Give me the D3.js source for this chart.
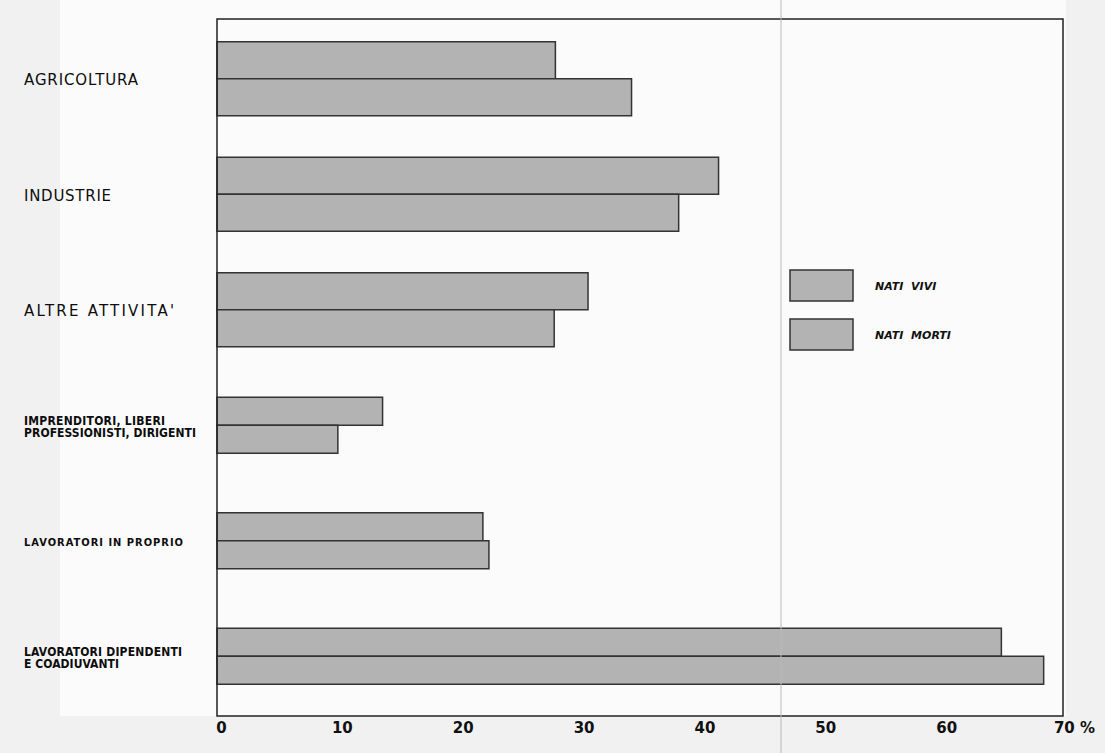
<!DOCTYPE html>
<html>
<head>
<meta charset="utf-8">
<script src="https://cdn.jsdelivr.net/npm/d3@7"></script>
<style>
  body { margin: 0; background: #f1f1f1; }
  svg { display: block; }
</style>
</head>
<body>
<svg width="1105" height="753"></svg>
<script>
var categories = [
  ["AGRICOLTURA"],
  ["INDUSTRIE"],
  ["ALTRE  ATTIVITA'"],
  ["IMPRENDITORI, LIBERI", "PROFESSIONISTI, DIRIGENTI"],
  ["LAVORATORI IN PROPRIO"],
  ["LAVORATORI DIPENDENTI", "E COADIUVANTI"]
];
var natiVivi  = [28.0, 41.5, 30.7, 13.7, 22.0, 64.9];
var natiMorti = [34.3, 38.2, 27.9, 10.0, 22.5, 68.4];
var seriesNames = ["NATI VIVI", "NATI MORTI"];
var xTicks = [0, 10, 20, 30, 40, 50, 60, 70];

var svg = d3.select("svg"),
    margin = {top: 19, right: 42, bottom: 37, left: 217},
    width = +svg.attr("width") - margin.left - margin.right,
    height = +svg.attr("height") - margin.top - margin.bottom;

// paper
svg.append("rect").attr("x", 60).attr("y", 0).attr("width", 1006).attr("height", 716)
    .attr("fill", "#fbfbfb");

var g = svg.append("g")
    .attr("transform", "translate(" + margin.left + "," + margin.top + ")");

var x = d3.scaleLinear().domain([0, 70]).range([0, width]);
var y = d3.scaleBand().domain(d3.range(categories.length)).range([2, height - 2]).padding(0);

// fold line of the scan
svg.append("line")
    .attr("x1", 781).attr("x2", 781).attr("y1", 0).attr("y2", 753)
    .attr("stroke", "#b8b8b8").attr("stroke-width", 1);

function thick(i) { return i < 3 ? 37 : 28; }

var rows = categories.map(function(c, i) {
  return {i: i, label: c, vals: [natiVivi[i], natiMorti[i]]};
});

var grp = g.selectAll(".grp")
  .data(rows)
  .enter().append("g")
    .attr("class", "grp")
    .attr("transform", function(d) { return "translate(0," + (y(d.i) + y.bandwidth() / 2) + ")"; });

grp.selectAll("rect")
  .data(function(d) { return d.vals.map(function(v, k) { return {v: v, k: k, t: thick(d.i)}; }); })
  .enter().append("rect")
    .attr("x", x(0))
    .attr("y", function(d) { return d.k === 0 ? -d.t : 0; })
    .attr("width", function(d) { return x(d.v) - x(0); })
    .attr("height", function(d) { return d.t; })
    .attr("fill", "#b3b3b3")
    .attr("stroke", "#333")
    .attr("stroke-width", 1.5);

// category labels
var labelStyle = [
  {size: 15, w: [114], weight: 500, family: "DejaVu Sans"},
  {size: 15, w: [87], weight: 500, family: "DejaVu Sans"},
  {size: 15, w: [150], weight: 500, family: "DejaVu Sans"},
  {size: 12, w: [141, 172], weight: 700, family: "DejaVu Sans Condensed"},
  {size: 11, w: [159], weight: 700, family: "DejaVu Sans Condensed"},
  {size: 12, w: [158, 95], weight: 700, family: "DejaVu Sans Condensed"}
];

grp.each(function(d) {
  var s = labelStyle[d.i];
  var n = d.label.length;
  var lh = s.size;
  d3.select(this).selectAll("text.lab")
    .data(d.label)
    .enter().append("text")
      .attr("class", "lab")
      .attr("x", 24 - margin.left)
      .attr("y", function(t, k) { return (k - (n - 1) / 2) * lh + 1; })
      .attr("dy", "0.36em")
      .attr("font-family", s.family)
      .attr("font-weight", s.weight)
      .attr("font-size", s.size)
      .attr("fill", "#0d0d0d")
      .attr("textLength", function(t, k) { return s.w[k]; })
      .attr("lengthAdjust", "spacing")
      .text(function(t) { return t; });
});

// frame
g.append("rect")
    .attr("width", width).attr("height", height)
    .attr("fill", "none").attr("stroke", "#222").attr("stroke-width", 1.5);

// x axis
var xAxis = g.append("g")
    .attr("transform", "translate(0," + height + ")")
    .call(d3.axisBottom(x).tickValues(xTicks).tickSize(0).tickPadding(6)
      .tickFormat(function(d) { return d === 70 ? "70 %" : d; }));
xAxis.select(".domain").remove();
xAxis.selectAll("text")
    .attr("dx", function(d) { return d === 70 ? 11 : 4; })
    .attr("font-family", "DejaVu Sans")
    .attr("font-weight", 700)
    .attr("font-size", 15)
    .attr("fill", "#111");

// legend
var legend = svg.append("g").attr("transform", "translate(790,270)");
legend.selectAll("rect")
  .data(seriesNames)
  .enter().append("rect")
    .attr("x", 0)
    .attr("y", function(d, i) { return i * 49; })
    .attr("width", 63).attr("height", 31)
    .attr("fill", "#b3b3b3").attr("stroke", "#333").attr("stroke-width", 1.5);
legend.selectAll("text")
  .data(seriesNames)
  .enter().append("text")
    .attr("x", 85)
    .attr("y", function(d, i) { return i * 49 + 16; })
    .attr("dy", "0.36em")
    .attr("font-family", "DejaVu Sans")
    .attr("font-style", "italic")
    .attr("font-weight", 700)
    .attr("font-size", 11)
    .attr("word-spacing", 4)
    .attr("fill", "#111")
    .text(function(d) { return d; });
</script>
</body>
</html>
